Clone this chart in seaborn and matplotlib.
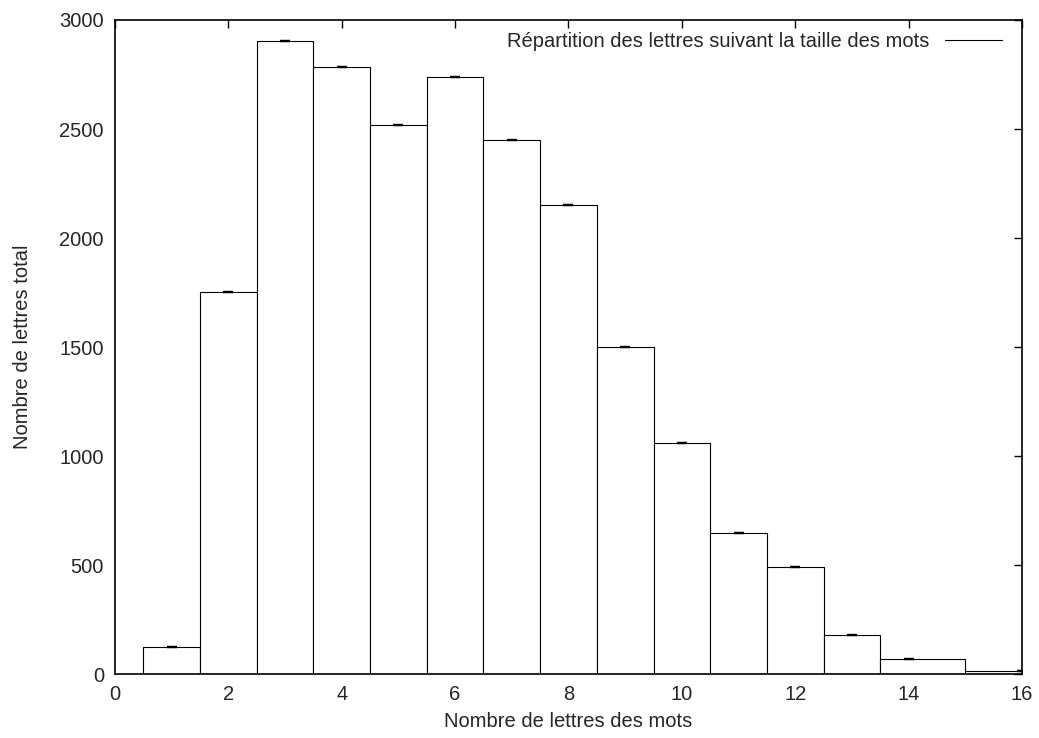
import numpy as np
import pandas as pd
import matplotlib
matplotlib.use('Agg')
import matplotlib.pyplot as plt
from matplotlib.lines import Line2D
import seaborn as sns

# word length (letters) and total letters for that length
tailles = [1, 2, 3, 4, 5, 6, 7, 8, 9, 10, 11, 12, 13, 14, 16]
lettres = [125, 1752, 2905, 2783, 2518, 2740, 2450, 2151, 1500, 1060, 647, 490, 180, 68, 15]
legende = "Répartition des lettres suivant la taille des mots"

df = pd.DataFrame({"taille": tailles, "lettres": lettres})

# gnuplot-style box edges: halfway between neighbouring points
x = np.array(tailles, dtype=float)
mids = (x[:-1] + x[1:]) / 2
edges = [float(e) for e in np.concatenate([[x[0] - 0.5], mids, [x[-1] + 1]])]

sns.set_theme(style="white")
plt.rcParams['font.family'] = ['Liberation Sans', 'DejaVu Sans']
FS = 14.5

fig = plt.figure(figsize=(10.39, 7.38), dpi=100)
ax = fig.add_axes([0.1107, 0.0867, 0.8729, 0.8862])

sns.histplot(data=df, x="taille", weights="lettres", bins=edges,
             color="white", edgecolor="black", linewidth=0.8, alpha=1, ax=ax)
ax.errorbar(df["taille"], df["lettres"], yerr=0, fmt='none',
            ecolor="black", capsize=3.6, capthick=1.6, elinewidth=0)

ax.set_xlim(0, 16)
ax.set_ylim(0, 3000)
ax.set_xticks(range(0, 17, 2))
ax.set_yticks(range(0, 3001, 500))
ax.set_xlabel("Nombre de lettres des mots", fontsize=FS, labelpad=6)
ax.set_ylabel("Nombre de lettres total", fontsize=FS, labelpad=20)
ax.tick_params(axis='both', which='both', direction='in', length=6, width=1,
               top=True, right=True, labelsize=FS, color='black', pad=8)
for sp in ax.spines.values():
    sp.set_color('black')
    sp.set_linewidth(1.2)

handle = Line2D([], [], color='black', linewidth=0.8)
ax.legend([handle], [legende], loc='upper right', frameon=False,
          markerfirst=False, handlelength=2.8, handletextpad=0.8,
          fontsize=FS, borderaxespad=0.6, bbox_to_anchor=(1.0, 1.013))

fig.savefig("out.png", dpi=100)
